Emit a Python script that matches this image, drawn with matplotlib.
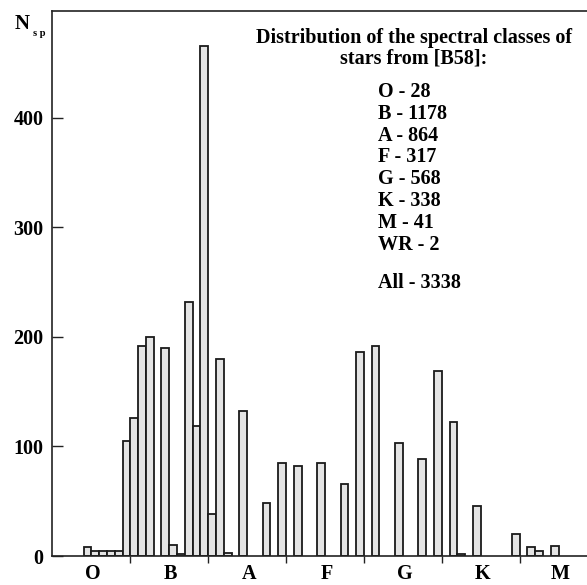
import matplotlib
matplotlib.use("Agg")
import matplotlib.pyplot as plt
from matplotlib.ticker import FixedLocator, NullFormatter, FixedFormatter

# ---- data ----
slots = [0, 1, 2, 3, 4, 5, 6, 7, 8, 10, 11, 12, 13, 14, 15, 16, 17, 18, 20,
         23, 25, 27, 30, 33, 35, 37, 40, 43, 45, 47, 48, 50, 55, 57, 58, 60]
counts = [8, 5, 5, 5, 5, 105, 126, 192, 200, 190, 10, 2, 232, 119, 466, 38, 180, 3, 132,
          48, 85, 82, 85, 66, 186, 192, 103, 89, 169, 122, 2, 46, 20, 8, 5, 9]
class_labels = ["O", "B", "A", "F", "G", "K", "M"]
class_bounds = [6, 16, 26, 36, 46, 56]
class_centers = [1.2, 11.2, 21.2, 31.2, 41.2, 51.2, 61.2]
yticks = [0, 100, 200, 300, 400]
title_lines = ["Distribution of the spectral classes of", "stars from [B58]:"]
summary = ["O - 28", "B - 1178", "A - 864", "F - 317", "G - 568", "K - 338",
           "M - 41", "WR - 2"]
total_line = "All - 3338"

W, H = 587, 585
fig = plt.figure(figsize=(W / 100, H / 100), dpi=100)
serif = "Liberation Serif"
fs = 14.5

ax = fig.add_axes([51.7 / W, 1 - 556 / H, 1 - 51.7 / W, (556 - 11) / H])
ax.bar(slots, counts, width=1.0, align="edge", color="#e4e4e4",
       edgecolor="#1a1a1a", linewidth=1.3, zorder=2)

ax.set_xlim(-4.1, 64.65)
ax.set_ylim(0, 497.5)

for s in ["left", "bottom", "top"]:
    ax.spines[s].set_linewidth(1.2)
    ax.spines[s].set_color("#222222")
ax.spines["right"].set_visible(False)

ax.set_yticks(yticks)
ax.set_yticklabels([str(v) for v in yticks], fontfamily=serif,
                   fontweight="bold", fontsize=fs)
ax.tick_params(axis="y", direction="in", length=8, width=1.0, pad=6,
               color="#222222")

ax.xaxis.set_major_locator(FixedLocator(class_bounds))
ax.xaxis.set_major_formatter(NullFormatter())
ax.xaxis.set_minor_locator(FixedLocator(class_centers))
ax.xaxis.set_minor_formatter(FixedFormatter(class_labels))
ax.tick_params(axis="x", which="major", direction="out", length=5, width=1.0,
               color="#222222")
ax.tick_params(axis="x", which="minor", length=0, pad=6)
for lab in ax.get_xticklabels(minor=True):
    lab.set_fontfamily(serif)
    lab.set_fontweight("bold")
    lab.set_fontsize(fs)

# y axis label N_sp
fig.text(15 / W, 1 - 24 / H, "N", fontfamily=serif, fontweight="bold",
         fontsize=15, ha="left", va="center")
fig.text(33 / W, 1 - 33 / H, "s p", fontfamily=serif, fontweight="bold",
         fontsize=7.5, ha="left", va="center")

# annotation block
fig.text(414 / W, 1 - 38 / H, title_lines[0], fontfamily=serif,
         fontweight="bold", fontsize=fs, ha="center", va="center")
fig.text(414 / W, 1 - 58 / H, title_lines[1], fontfamily=serif,
         fontweight="bold", fontsize=fs, ha="center", va="center")
for i, line in enumerate(summary):
    fig.text(378 / W, 1 - (92 + 21.8 * i) / H, line, fontfamily=serif,
             fontweight="bold", fontsize=fs, ha="left", va="center")
fig.text(378 / W, 1 - 283 / H, total_line, fontfamily=serif,
         fontweight="bold", fontsize=fs, ha="left", va="center")

fig.savefig("out.png", dpi=100)
